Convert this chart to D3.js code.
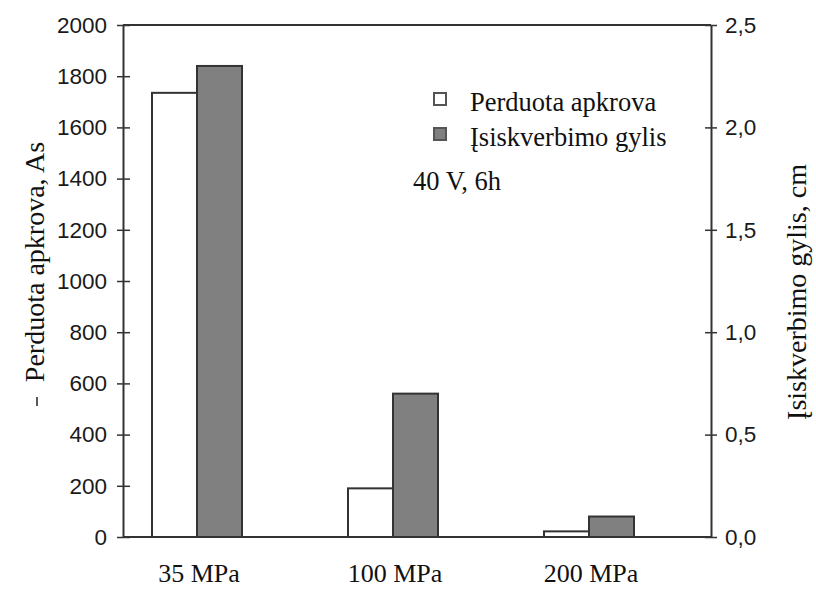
<!DOCTYPE html>
<html>
<head>
<meta charset="utf-8">
<script src="https://cdn.jsdelivr.net/npm/d3@7"></script>
<style>
  html, body { margin: 0; padding: 0; background: #fff; }
  svg { display: block; }
</style>
</head>
<body>
<svg id="chart" width="816" height="589"></svg>
<script>
// Categories and series
const categories = ["35 MPa", "100 MPa", "200 MPa"];
const transferredCharge = [1735, 190, 22];      // Perduota apkrova, As (left axis)
const penetrationDepth = [2.3, 0.7, 0.1];       // Įsiskverbimo gylis, cm (right axis)
const leftTicks = [0, 200, 400, 600, 800, 1000, 1200, 1400, 1600, 1800, 2000];
const rightTicks = [0, 0.5, 1.0, 1.5, 2.0, 2.5];
const seriesNames = ["Perduota apkrova", "Įsiskverbimo gylis"];
const seriesFill = ["#ffffff", "#808080"];

const SERIF = "Liberation Serif";
const SANS = "Liberation Sans";

const svg = d3.select("#chart");
const plot = { left: 123, right: 711, top: 25, bottom: 537 };

const x = d3.scaleBand().domain(categories).range([99, 687]);
const xs = d3.scaleBand().domain(seriesNames).range([0, 90]);
const barOffset = (x.bandwidth() - 90) / 2;

const yL = d3.scaleLinear().domain([0, 2000]).range([plot.bottom, plot.top]);
const yR = d3.scaleLinear().domain([0, 2.5]).range([plot.bottom, plot.top]);

const rows = categories.map((c, i) => ({
  cat: c,
  vals: [
    { name: seriesNames[0], y: yL(transferredCharge[i]), fill: seriesFill[0] },
    { name: seriesNames[1], y: yR(penetrationDepth[i]), fill: seriesFill[1] }
  ]
}));

// Bars
const g = svg.append("g");
rows.forEach(r => {
  r.vals.forEach(v => {
    g.append("rect")
      .attr("x", x(r.cat) + barOffset + xs(v.name))
      .attr("y", v.y)
      .attr("width", xs.bandwidth())
      .attr("height", plot.bottom - v.y)
      .attr("fill", v.fill)
      .attr("stroke", "#333")
      .attr("stroke-width", 2);
  });
});

// Frame: top and bottom lines
svg.append("line").attr("x1", plot.left).attr("x2", plot.right)
  .attr("y1", plot.top).attr("y2", plot.top).attr("stroke", "#333").attr("stroke-width", 2);
svg.append("line").attr("x1", plot.left).attr("x2", plot.right)
  .attr("y1", plot.bottom).attr("y2", plot.bottom).attr("stroke", "#333").attr("stroke-width", 2);

// Left axis with ticks crossing the spine
const axL = svg.append("g").attr("transform", `translate(${plot.left},0)`)
  .call(d3.axisLeft(yL).tickValues(leftTicks).tickFormat(d3.format("d"))
    .tickSizeInner(6).tickSizeOuter(0).tickPadding(10));
axL.select(".domain").attr("stroke", "#333").attr("stroke-width", 2);
axL.selectAll(".tick line").attr("x2", 7).attr("x1", -6).attr("stroke", "#333").attr("stroke-width", 1.5);

// Right axis
const fmtR = v => d3.format(".1f")(v).replace(".", ",");
const axR = svg.append("g").attr("transform", `translate(${plot.right},0)`)
  .call(d3.axisRight(yR).tickValues(rightTicks).tickFormat(fmtR)
    .tickSizeInner(6).tickSizeOuter(0).tickPadding(8));
axR.select(".domain").attr("stroke", "#333").attr("stroke-width", 2);
axR.selectAll(".tick line").attr("x1", -6).attr("x2", 6).attr("stroke", "#333").attr("stroke-width", 1.5);

[axL, axR].forEach(a => {
  a.attr("font-family", SANS).attr("font-size", 22.5);
  a.selectAll(".tick text").attr("fill", "#1a1a1a");
});

// Category labels
svg.append("g").selectAll("text").data(categories).join("text")
  .attr("x", d => x(d) + x.bandwidth() / 2 + 2)
  .attr("y", 582)
  .attr("text-anchor", "middle")
  .attr("font-family", SERIF).attr("font-size", 26).attr("fill", "#111")
  .text(d => d);

// Axis titles
svg.append("text")
  .attr("transform", "translate(44,262) rotate(-90)")
  .attr("text-anchor", "middle")
  .attr("font-family", SERIF).attr("font-size", 28).attr("fill", "#111")
  .text("Perduota apkrova, As");
svg.append("line").attr("x1", 37).attr("x2", 37).attr("y1", 397).attr("y2", 406)
  .attr("stroke", "#222").attr("stroke-width", 1.5);

svg.append("text")
  .attr("transform", "translate(806,292) rotate(-90)")
  .attr("text-anchor", "middle")
  .attr("font-family", SERIF).attr("font-size", 28).attr("fill", "#111")
  .text("Įsiskverbimo gylis, cm");

// Legend
const legend = svg.append("g");
seriesNames.forEach((name, i) => {
  const ly = 93 + i * 35;
  legend.append("rect").attr("x", 434).attr("y", ly).attr("width", 12).attr("height", 12)
    .attr("fill", seriesFill[i]).attr("stroke", "#555").attr("stroke-width", 2);
  legend.append("text")
    .attr("x", 470).attr("y", ly + 18)
    .attr("font-family", SERIF).attr("font-size", 26.5).attr("fill", "#111")
    .text(name);
});
svg.append("text")
  .attr("x", 413).attr("y", 190)
  .attr("font-family", SERIF).attr("font-size", 26.5).attr("fill", "#111")
  .text("40 V, 6h");
</script>
</body>
</html>
